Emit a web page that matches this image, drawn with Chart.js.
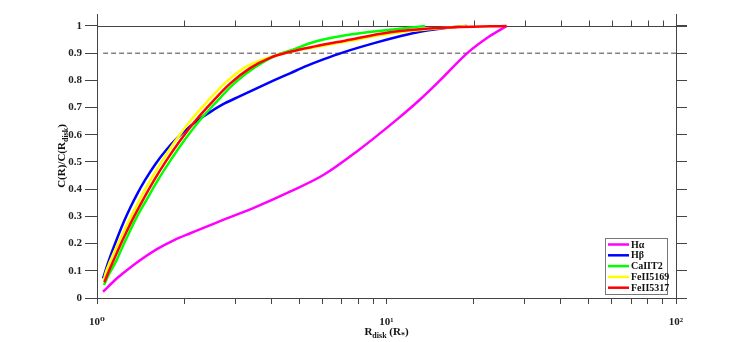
<!DOCTYPE html>
<html>
<head>
<meta charset="utf-8">
<script src="https://cdn.jsdelivr.net/npm/chart.js@4.4.1/dist/chart.umd.min.js"></script>
<style>
  html, body { margin: 0; padding: 0; background: #fff; }
  canvas { display: block; }
</style>
</head>
<body>
<canvas id="grafico" width="747" height="342"></canvas>
<script>
// series: R_disk (R*) vs C(R)/C(R_disk)
const seriesNames = ["H\u03b1", "H\u03b2", "CaIIT2", "FeII5169", "FeII5317"];
const seriesColors = ["#ff00ff", "#0000ff", "#00ff00", "#ffff00", "#ff0000"];

const haR = [1.049, 1.154, 1.23, 1.4, 1.6, 1.84, 2.1, 2.73, 3.56, 4.64, 6.05, 7.88, 10.8, 13.0, 15.3, 19.1, 22.7, 26];
const haC = [0.023, 0.066, 0.091, 0.137, 0.178, 0.212, 0.238, 0.287, 0.336, 0.391, 0.452, 0.538, 0.654, 0.728, 0.8, 0.902, 0.962, 1.0];

const hbR = [1.049, 1.091, 1.136, 1.182, 1.24, 1.3, 1.3745, 1.465, 1.586, 1.731, 1.905, 2.095, 2.269, 2.496, 2.768, 3.119, 3.56, 4.064, 4.642, 5.3, 6.05, 7.09, 9.0, 11.13, 13.05, 15.3, 18.9];
const hbC = [0.072, 0.128, 0.18, 0.228, 0.282, 0.33, 0.381, 0.433, 0.49, 0.543, 0.591, 0.631, 0.659, 0.688, 0.716, 0.742, 0.771, 0.799, 0.826, 0.853, 0.877, 0.903, 0.936, 0.962, 0.979, 0.99, 1.0];

const caR = [1.057, 1.1045, 1.163, 1.22, 1.29, 1.3745, 1.483, 1.625, 1.787, 1.998, 2.251, 2.608, 2.973, 3.514, 4.12, 4.831, 5.573, 6.909, 8.77, 11.13, 13.58];
const caC = [0.048, 0.091, 0.134, 0.184, 0.239, 0.299, 0.361, 0.434, 0.503, 0.578, 0.65, 0.725, 0.788, 0.848, 0.89, 0.916, 0.94, 0.962, 0.978, 0.99, 1.0];

const fe69R = [1.055, 1.07, 1.109, 1.163, 1.23, 1.3105, 1.402, 1.5305, 1.677, 1.867, 2.096, 2.417, 2.768, 3.245, 3.866, 4.568, 5.662, 7.189, 10.28, 13.05, 15.3, 18.82];
const fe69C = [0.064, 0.091, 0.134, 0.184, 0.239, 0.299, 0.361, 0.434, 0.503, 0.578, 0.65, 0.725, 0.79, 0.848, 0.882, 0.903, 0.922, 0.942, 0.972, 0.985, 0.992, 1.0];

const fe17R = [1.06, 1.091, 1.136, 1.191, 1.259, 1.342, 1.442, 1.5775, 1.731, 1.935, 2.181, 2.522, 2.88, 3.378, 3.959, 4.642, 5.662, 7.189, 10.28, 13.05, 17.94, 26.0];
const fe17C = [0.058, 0.091, 0.134, 0.184, 0.239, 0.299, 0.361, 0.434, 0.503, 0.578, 0.65, 0.725, 0.788, 0.845, 0.883, 0.905, 0.925, 0.946, 0.977, 0.988, 0.996, 1.0];

// 90% reference level
const refR = [1.05, 100];
const refC = [0.9, 0.9];

const xTickValues = [1, 2, 3, 4, 5, 6, 7, 8, 9, 10, 20, 30, 40, 50, 60, 70, 80, 90, 100];
const xTickLabels = { 1: "10\u2070", 10: "10\u00b9", 100: "10\u00b2" };
const yTickValues = [0, 0.1, 0.2, 0.3, 0.4, 0.5, 0.6, 0.7, 0.8, 0.9, 1];
const yTickLabels = ["0", "0.1", "0.2", "0.3", "0.4", "0.5", "0.6", "0.7", "0.8", "0.9", "1"];

const axisColor = "#444";
const serif = '"Liberation Serif", "DejaVu Serif", serif';

const pts = (xs, ys) => xs.map((r, i) => ({ x: r, y: ys[i] }));

const curves = [[haR, haC], [hbR, hbC], [caR, caC], [fe69R, fe69C], [fe17R, fe17C]];
const drawOrder = [4, 3, 2, 1, 0]; // red on top

const datasets = curves.map((c, i) => ({
  label: seriesNames[i],
  data: pts(c[0], c[1]),
  borderColor: seriesColors[i],
  borderWidth: 2.5,
  pointRadius: 0,
  showLine: true,
  cubicInterpolationMode: "monotone",
  order: drawOrder[i]
}));

datasets.push({
  label: "ref",
  data: pts(refR, refC),
  borderColor: axisColor,
  borderWidth: 1,
  borderDash: [5, 3],
  pointRadius: 0,
  showLine: true,
  order: 9
});

// draws the line at C=1, axis titles with subscripts and the legend box
const decor = {
  id: "decor",
  beforeDatasetsDraw(chart) {
    const { ctx, chartArea: a, scales: { x, y } } = chart;
    ctx.save();
    ctx.strokeStyle = axisColor;
    ctx.lineWidth = 1;
    const y1 = Math.round(y.getPixelForValue(1)) + 0.5;
    ctx.beginPath();
    ctx.moveTo(a.left, y1);
    ctx.lineTo(a.right + 11, y1);
    xTickValues.forEach(v => {
      if (v <= 1 || v >= 100) return;
      const px = Math.round(x.getPixelForValue(v)) + 0.5;
      ctx.moveTo(px, y1);
      ctx.lineTo(px, y1 - 6);
    });
    ctx.stroke();
    ctx.restore();
  },
  afterDraw(chart) {
    const { ctx, chartArea: a } = chart;
    ctx.save();
    ctx.fillStyle = "#111";
    ctx.textBaseline = "alphabetic";

    // y title
    const big = "bold 11px " + serif, small = "bold 8px " + serif;
    const yParts = [["C(R)/C(R", big, 0], ["disk", small, 3], [")", big, 0]];
    ctx.translate(65, (a.top + a.bottom) / 2);
    ctx.rotate(-Math.PI / 2);
    let w = 0;
    yParts.forEach(p => { ctx.font = p[1]; w += ctx.measureText(p[0]).width; });
    let cx = -w / 2;
    yParts.forEach(p => { ctx.font = p[1]; ctx.fillText(p[0], cx, p[2]); cx += ctx.measureText(p[0]).width; });
    ctx.setTransform(1, 0, 0, 1, 0, 0);

    // x title
    const xParts = [["R", big, 0], ["disk", small, 3], [" (R", big, 0], ["*", small, 3], [")", big, 0]];
    w = 0;
    xParts.forEach(p => { ctx.font = p[1]; w += ctx.measureText(p[0]).width; });
    cx = (a.left + a.right) / 2 - w / 2;
    xParts.forEach(p => { ctx.font = p[1]; ctx.fillText(p[0], cx, 335 + p[2]); cx += ctx.measureText(p[0]).width; });

    // legend
    const lx = 605, ly = 238, lw = 62, rowH = 10.8;
    ctx.fillStyle = "#fff";
    ctx.fillRect(lx, ly, lw, rowH * seriesNames.length + 2);
    ctx.strokeStyle = "#777";
    ctx.lineWidth = 1;
    ctx.strokeRect(lx + 0.5, ly + 0.5, lw, rowH * seriesNames.length + 2);
    ctx.font = "bold 10px " + serif;
    ctx.textBaseline = "middle";
    seriesNames.forEach((n, i) => {
      const yy = ly + 6.5 + rowH * i;
      ctx.strokeStyle = seriesColors[i];
      ctx.lineWidth = 2.5;
      ctx.beginPath();
      ctx.moveTo(lx + 3, yy);
      ctx.lineTo(lx + 24, yy);
      ctx.stroke();
      ctx.fillStyle = "#111";
      ctx.fillText(n, lx + 26, yy + 0.5);
    });
    ctx.restore();
  }
};

const yScale = (pos, showLabels, width) => ({
  type: "linear",
  position: pos,
  min: 0,
  max: 1.044,
  afterBuildTicks: s => { s.ticks = yTickValues.map(v => ({ value: v })); },
  afterFit: s => { s.width = width; },
  border: { display: true, color: axisColor, width: 1 },
  grid: { drawOnChartArea: false, drawTicks: true, tickLength: pos === "left" ? 12 : 11, color: axisColor },
  ticks: {
    display: showLabels,
    padding: 3,
    color: "#222",
    font: { family: serif, size: 11, weight: "bold" },
    callback: (v, i) => yTickLabels[i]
  }
});

new Chart(document.getElementById("grafico"), {
  type: "scatter",
  data: { datasets },
  plugins: [decor],
  options: {
    responsive: false,
    animation: false,
    layout: { padding: { top: 14, left: 0, right: 0, bottom: 0 } },
    plugins: { legend: { display: false }, tooltip: { enabled: false } },
    scales: {
      x: {
        type: "logarithmic",
        min: 1,
        max: 100,
        afterBuildTicks: s => { s.ticks = xTickValues.map(v => ({ value: v })); },
        afterFit: s => { s.height = 44; },
        border: { display: true, color: axisColor, width: 1 },
        grid: { drawOnChartArea: false, drawTicks: true, tickLength: 6, color: axisColor },
        ticks: {
          autoSkip: false,
          maxRotation: 0,
          padding: 12,
          color: "#222",
          font: { family: serif, size: 11, weight: "bold" },
          callback: v => xTickLabels[v] || ""
        }
      },
      y: yScale("left", true, 97),
      y2: yScale("right", false, 71)
    }
  }
});
</script>
</body>
</html>
